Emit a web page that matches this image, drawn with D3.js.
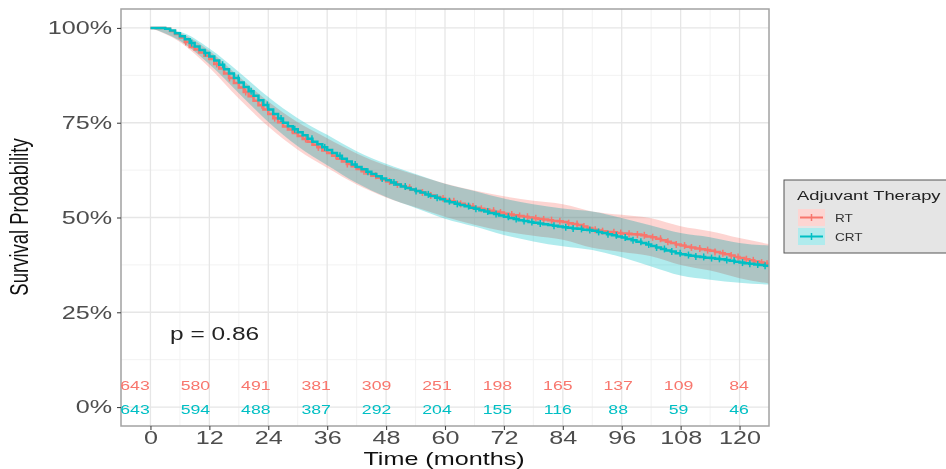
<!DOCTYPE html>
<html>
<head>
<meta charset="utf-8">
<script src="https://cdn.jsdelivr.net/npm/d3@7"></script>
<style>
  body { margin: 0; background: #fff; }
  svg { display: block; }
  text { font-family: "Liberation Sans", Arial, sans-serif; }
</style>
</head>
<body>
<svg id="chart" width="946" height="469"></svg>
<script>
// ---- Data -------------------------------------------------------------
const groups = ["RT", "CRT"];
const groupColors = ["#F8766D", "#00BFC4"];

// Kaplan-Meier survival (%) at each month, 0..126
const survMonths = d3.range(0, 127);
const survRT = [
  100,100,100,99.8,99.2,98.4,97.5,96.3,95,94.3,93.5,92.7,91.8,90.5,89.3,88,86.8,85.5,84.3,83.1,
  82,80.8,79.6,78.5,77.3,76.2,75.1,74,73.2,72.3,71.5,70.7,70,69.2,68.5,67.7,67,66.3,65.5,64.8,
  64.1,63.5,62.8,62.2,61.6,61,60.5,60,59.5,59.1,58.7,58.3,57.9,57.4,57,56.6,56.2,55.8,55.4,55,
  54.6,54.3,53.9,53.6,53.3,52.9,52.6,52.3,52.1,51.8,51.5,51.3,51,50.8,50.6,50.4,50.2,50,49.8,49.6,
  49.5,49.3,49.1,49,48.8,48.5,48.3,48,47.6,47.2,46.8,46.6,46.4,46.2,46.1,45.9,45.8,45.7,45.6,45.5,
  45.3,45,44.8,44.4,44,43.6,43.3,42.9,42.6,42.3,42.1,41.8,41.6,41.4,41.2,40.9,40.6,40.3,40,39.6,
  39.3,39,38.7,38.4,38.1,37.8,37.6
];
const survCRT = [
  100,100,100,99.8,99.3,98.6,97.8,97,96,95.1,94.2,93.4,92.5,91.4,90.3,89.1,88,86.8,85.6,84.4,
  83.3,82.1,80.9,79.7,78.5,77.3,76.1,75,74.1,73.3,72.5,71.7,70.8,70,69.3,68.5,67.8,67,66.3,65.5,
  64.8,64,63.3,62.7,62.1,61.5,60.9,60.3,59.8,59.2,58.7,58.2,57.8,57.4,57,56.6,56.1,55.7,55.2,54.8,
  54.3,54,53.6,53.3,53,52.6,52.3,51.9,51.6,51.2,50.9,50.5,50.2,49.9,49.6,49.3,49.1,48.8,48.6,48.4,
  48.2,48,47.8,47.6,47.4,47.3,47.1,47,46.8,46.7,46.5,46.2,45.9,45.6,45.3,45,44.7,44.3,44,43.6,
  43.3,42.9,42.5,42.1,41.7,41.3,41,40.6,40.3,40.1,39.9,39.7,39.6,39.4,39.3,39.1,39,38.8,38.6,38.3,
  38.1,37.9,37.8,37.6,37.5,37.3,37.2
];

// 95% confidence band (%) every 6 months, 0..126
const bandMonths = d3.range(0, 127, 6);
const upperRT  = [100,98.7,94,87.2,80.6,75.1,70.9,66.9,63.7,61.3,59,57.1,55.6,54.4,53.5,51.6,50.7,49.8,47.7,46.4,44.6,43];
const lowerRT  = [100,96.3,89.6,81.4,74,67.9,63.1,58.7,55.3,52.7,50.2,48.1,46.4,45.2,44.1,42,40.9,39.8,37.5,36,34,32.6];
const upperCRT = [100,99,94.6,88.4,81.8,76.2,71.8,67.5,64.2,61.5,58.9,57,55,53.5,52.4,51.6,49.9,47.9,45.9,44.8,43.3,42.6];
const lowerCRT = [100,96.6,90.4,82.8,75.2,68.8,63.8,59.1,55.4,52.5,49.7,47.6,45.4,43.7,42.4,41.4,39.5,37.1,34.7,33.6,32.8,32.3];

// Censoring times (months)
const censorRT = [7.2,9.8,13.5,16.1,19.4,22.7,25.3,28.9,31.6,34.2,37.8,40.1,43.5,45.9,48.7,50.3,52.8,55.4,
  57.1,59.6,61.8,63.2,65.7,67.4,69.9,71.3,73.6,75.2,76.8,78.5,80.1,81.7,83.4,85.2,86.9,88.3,90.6,92.1,
  94.4,95.8,97.5,99.2,100.6,102.3,103.9,105.4,107.1,108.8,110.2,111.9,113.5,115,116.6,118.3,119.7,121.4,
  122.8,124.5,125.6];
const censorCRT = [8.4,11.2,14.7,17.9,20.5,23.8,26.6,29.4,32.9,35.5,38.6,41.7,44.3,47.2,49.6,51.9,54.1,56.6,
  58.4,60.9,62.5,64.8,66.3,68.7,70.4,72.9,74.5,76.1,77.7,79.4,82.2,84.6,86.1,87.8,89.5,91.3,93.2,94.9,
  96.7,98.3,99.9,101.5,103.1,104.7,106.2,107.9,109.6,111.1,112.7,114.3,115.9,117.4,118.9,120.6,122.1,
  123.7,125.2];

// Number at risk
const riskMonths = [0,12,24,36,48,60,72,84,96,108,120];
const riskRT  = [643,580,491,381,309,251,198,165,137,109,84];
const riskCRT = [643,594,488,387,292,204,155,116,88,59,46];

// Axes
const xTicks = [0,12,24,36,48,60,72,84,96,108,120];
const xTickLabels = ["0","12","24","36","48","60","72","84","96","108","120"];
const xMinor = [-6,6,18,30,42,54,66,78,90,102,114,126];
const yTicks = [0,25,50,75,100];
const yTickLabels = ["0%","25%","50%","75%","100%"];
const yMinor = [12.5,37.5,62.5,87.5];
const pValueText = "p = 0.86";
const xTitle = "Time (months)";
const yTitle = "Survival Probability";
const legendTitle = "Adjuvant Therapy";

// ---- Layout -----------------------------------------------------------
const SX = 1.36;                 // horizontal text stretch
const panel = { left: 121, right: 769, top: 9, bottom: 426 };

const svg = d3.select("#chart");
const x = d3.scaleLinear().domain([-6, 126]).range([panel.left, panel.right]);
const y = d3.scaleLinear().domain([-5, 105]).range([panel.bottom, panel.top]);
const riskX = d3.scaleLinear().domain([0, 120]).range([135, 739]);

function label(g, px, py, str, size, fill, anchor, extra) {
  return g.append("text")
    .attr("transform", `translate(${px},${py}) scale(${SX},1)` + (extra || ""))
    .attr("font-size", size)
    .attr("fill", fill)
    .attr("text-anchor", anchor || "start")
    .text(str);
}

svg.append("rect").attr("width", 946).attr("height", 469).attr("fill", "#fff");

svg.append("defs").append("clipPath").attr("id", "panelClip")
  .append("rect")
  .attr("x", panel.left).attr("y", panel.top)
  .attr("width", panel.right - panel.left).attr("height", panel.bottom - panel.top);

// Grid
const grid = svg.append("g");
grid.selectAll(".vminor").data(xMinor).join("line")
  .attr("x1", d => x(d)).attr("x2", d => x(d))
  .attr("y1", panel.top).attr("y2", panel.bottom)
  .attr("stroke", "#f1f1f1").attr("stroke-width", 0.9);
grid.selectAll(".hminor").data(yMinor).join("line")
  .attr("y1", d => y(d)).attr("y2", d => y(d))
  .attr("x1", panel.left).attr("x2", panel.right)
  .attr("stroke", "#f1f1f1").attr("stroke-width", 0.9);
grid.selectAll(".vmajor").data(xTicks).join("line")
  .attr("x1", d => x(d)).attr("x2", d => x(d))
  .attr("y1", panel.top).attr("y2", panel.bottom)
  .attr("stroke", "#e6e6e6").attr("stroke-width", 1.3);
grid.selectAll(".hmajor").data(yTicks).join("line")
  .attr("y1", d => y(d)).attr("y2", d => y(d))
  .attr("x1", panel.left).attr("x2", panel.right)
  .attr("stroke", "#e6e6e6").attr("stroke-width", 1.3);

// Curves
const plot = svg.append("g").attr("clip-path", "url(#panelClip)");
const series = [
  { surv: survRT,  lo: lowerRT,  hi: upperRT,  cens: censorRT,  color: groupColors[0] },
  { surv: survCRT, lo: lowerCRT, hi: upperCRT, cens: censorCRT, color: groupColors[1] }
];

const area = d3.area()
  .x((d, i) => x(bandMonths[i]))
  .y0(d => y(d[0])).y1(d => y(d[1]))
  .curve(d3.curveMonotoneX);

series.forEach(s => {
  plot.append("path")
    .datum(s.lo.map((v, i) => [v, s.hi[i]]))
    .attr("d", area)
    .attr("fill", s.color)
    .attr("fill-opacity", 0.31)
    .style("mix-blend-mode", "multiply");
});

const line = d3.line()
  .x((d, i) => x(survMonths[i]))
  .y(d => y(d))
  .curve(d3.curveStepAfter);

series.forEach(s => {
  plot.append("path")
    .datum(s.surv)
    .attr("d", line)
    .attr("fill", "none")
    .attr("stroke", s.color)
    .attr("stroke-width", 2.5);
  plot.selectAll(null).data(s.cens).join("line")
    .attr("x1", d => x(d)).attr("x2", d => x(d))
    .attr("y1", d => y(s.surv[Math.floor(d)]) - 3.5)
    .attr("y2", d => y(s.surv[Math.floor(d)]) + 3.5)
    .attr("stroke", s.color).attr("stroke-width", 1.5);
});

// p-value
label(svg, 170, 340, pValueText, 18, "#222");

// Panel border
svg.append("rect")
  .attr("x", panel.left).attr("y", panel.top)
  .attr("width", panel.right - panel.left).attr("height", panel.bottom - panel.top)
  .attr("fill", "none").attr("stroke", "#a3a3a3").attr("stroke-width", 1.5);

// Axes
const xAxis = svg.append("g")
  .attr("transform", `translate(0,${panel.bottom})`)
  .call(d3.axisBottom(x).tickValues(xTicks).tickFormat((d, i) => xTickLabels[i])
    .tickSize(4).tickPadding(1));
const yAxis = svg.append("g")
  .attr("transform", `translate(${panel.left},0)`)
  .call(d3.axisLeft(y).tickValues(yTicks).tickFormat((d, i) => yTickLabels[i])
    .tickSize(4).tickPadding(5));
[xAxis, yAxis].forEach(a => {
  a.select(".domain").remove();
  a.selectAll(".tick line").attr("stroke", "#444").attr("stroke-width", 1.1);
  a.selectAll(".tick text")
    .attr("font-size", 18.5)
    .attr("fill", "#4d4d4d")
    .attr("font-family", '"Liberation Sans", Arial, sans-serif');
});
xAxis.selectAll(".tick text").attr("transform", `scale(${SX},1)`);
yAxis.selectAll(".tick text")
  .attr("x", -9 / SX)
  .attr("transform", `scale(${SX},1)`);

// Axis titles
label(svg, 444, 465, xTitle, 18.5, "#111", "middle");
label(svg, 28, 217, yTitle, 18.5, "#111", "middle", " rotate(-90)");

// Number at risk
const riskG = svg.append("g");
[riskRT, riskCRT].forEach((vals, gi) => {
  vals.forEach((v, i) => {
    label(riskG, riskX(riskMonths[i]), gi === 0 ? 390 : 414, String(v), 13, groupColors[gi], "middle");
  });
});

// Legend
const lg = svg.append("g");
lg.append("rect")
  .attr("x", 784).attr("y", 180).attr("width", 175).attr("height", 73)
  .attr("fill", "#e5e5e5").attr("stroke", "#555").attr("stroke-width", 1);
label(lg, 797, 200, legendTitle, 13.5, "#222");
groups.forEach((gname, i) => {
  const ky = 209 + i * 19;
  lg.append("rect").attr("x", 798).attr("y", ky).attr("width", 27).attr("height", 17).attr("fill", "#fff");
  lg.append("rect").attr("x", 798).attr("y", ky).attr("width", 27).attr("height", 17)
    .attr("fill", groupColors[i]).attr("fill-opacity", 0.31);
  lg.append("line").attr("x1", 800).attr("x2", 823).attr("y1", ky + 8.5).attr("y2", ky + 8.5)
    .attr("stroke", groupColors[i]).attr("stroke-width", 2);
  lg.append("line").attr("x1", 811.5).attr("x2", 811.5).attr("y1", ky + 5).attr("y2", ky + 12)
    .attr("stroke", groupColors[i]).attr("stroke-width", 1.5);
  label(lg, 835, ky + 12.5, gname, 10, "#333");
});
</script>
</body>
</html>
